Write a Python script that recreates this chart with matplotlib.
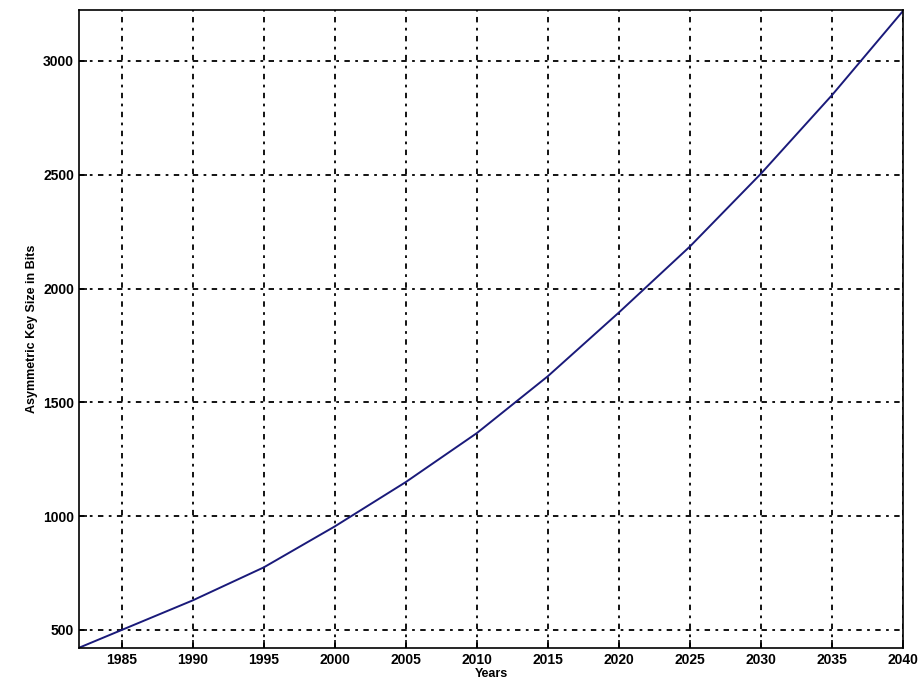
import matplotlib
matplotlib.use("Agg")
import matplotlib.pyplot as plt

# values
years = [1982, 1985, 1990, 1995, 2000, 2005, 2010, 2015, 2020, 2025, 2030, 2035, 2040]
key_bits = [422, 500, 630, 775, 955, 1150, 1365, 1615, 1895, 2185, 2505, 2850, 3220]
xticks = [1985, 1990, 1995, 2000, 2005, 2010, 2015, 2020, 2025, 2030, 2035, 2040]
yticks = [500, 1000, 1500, 2000, 2500, 3000]

plt.rcParams['font.family'] = ['Liberation Sans', 'DejaVu Sans']

fig = plt.figure(figsize=(9.21, 6.90), dpi=100)
ax = fig.add_axes([0.0858, 0.0609, 0.8947, 0.9246])

ax.plot(years, key_bits, color='#1a1a7a', linewidth=1.4)

ax.set_xlim(1982, 2040)
ax.set_ylim(421, 3224)
ax.set_xticks(xticks)
ax.set_yticks(yticks)
ax.tick_params(direction='in', length=6, width=1.2, labelsize=10)
for lbl in ax.get_xticklabels() + ax.get_yticklabels():
    lbl.set_fontweight('bold')

ax.grid(True, color='black', linestyle=(0, (3, 3, 1.5, 3)), linewidth=1.3)
for s in ax.spines.values():
    s.set_linewidth(1.2)

ax.set_xlabel('Years', fontsize=9, fontweight='bold', labelpad=1)
ax.set_ylabel('Asymmetric Key Size in Bits', fontsize=9, fontweight='bold', labelpad=4)

fig.savefig('out.png', dpi=100)
plt.close(fig)
